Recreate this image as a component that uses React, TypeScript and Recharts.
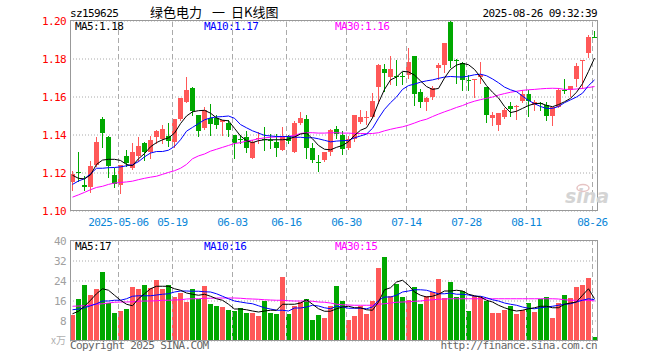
import React from 'react';
import { ComposedChart, Bar, Line, XAxis, YAxis, CartesianGrid, ReferenceLine } from 'recharts';

const dates = [
  '2025-04-21','2025-04-22','2025-04-23','2025-04-24','2025-04-25','2025-04-28','2025-04-29','2025-04-30',
  '2025-05-06','2025-05-07','2025-05-08','2025-05-09','2025-05-12','2025-05-13','2025-05-14','2025-05-15','2025-05-16',
  '2025-05-19','2025-05-20','2025-05-21','2025-05-22','2025-05-23','2025-05-26','2025-05-27','2025-05-28','2025-05-29','2025-05-30',
  '2025-06-03','2025-06-04','2025-06-05','2025-06-06','2025-06-09','2025-06-10','2025-06-11','2025-06-12','2025-06-13',
  '2025-06-16','2025-06-17','2025-06-18','2025-06-19','2025-06-20','2025-06-23','2025-06-24','2025-06-25','2025-06-26','2025-06-27',
  '2025-06-30','2025-07-01','2025-07-02','2025-07-03','2025-07-04','2025-07-07','2025-07-08','2025-07-09','2025-07-10','2025-07-11',
  '2025-07-14','2025-07-15','2025-07-16','2025-07-17','2025-07-18','2025-07-21','2025-07-22','2025-07-23','2025-07-24','2025-07-25',
  '2025-07-28','2025-07-29','2025-07-30','2025-07-31','2025-08-01','2025-08-04','2025-08-05','2025-08-06','2025-08-07','2025-08-08',
  '2025-08-11','2025-08-12','2025-08-13','2025-08-14','2025-08-15','2025-08-18','2025-08-19','2025-08-20','2025-08-21','2025-08-22',
  '2025-08-25','2025-08-26',
];

const openP = [1.1151,1.1205,1.1139,1.1127,1.1243,1.1483,1.1391,1.1191,1.1139,1.1290,
  1.1226,1.1287,1.1357,1.1313,1.1391,1.1381,1.1393,1.1363,1.1484,1.1572,
  1.1647,1.1504,1.1437,1.1489,1.1489,1.1468,1.1465,1.1400,1.1380,1.1391,
  1.1278,1.1380,1.1379,1.1375,1.1365,1.1322,1.1395,1.1313,1.1463,1.1483,
  1.1334,1.1258,1.1270,1.1313,1.1432,1.1400,1.1334,1.1381,1.1468,1.1494,
  1.1496,1.1654,1.1746,1.1707,1.1712,1.1712,1.1716,1.1816,1.1628,1.1575,
  1.1598,1.1751,1.1768,1.1993,1.1795,1.1777,1.1692,1.1688,1.1707,1.1651,
  1.1488,1.1453,1.1496,1.1554,1.1547,1.1577,1.1618,1.1560,1.1570,1.1560,
  1.1498,1.1547,1.1637,1.1635,1.1695,1.1788,1.1832,1.1918];
const highP = [1.1212,1.1313,1.1186,1.1264,1.1391,1.1496,1.1395,1.1226,1.1243,1.1322,
  1.1357,1.1391,1.1365,1.1395,1.1425,1.1454,1.1463,1.1486,1.1596,1.1704,
  1.1651,1.1507,1.1546,1.1563,1.1507,1.1480,1.1478,1.1400,1.1400,1.1421,
  1.1374,1.1414,1.1442,1.1405,1.1403,1.1443,1.1400,1.1473,1.1522,1.1504,
  1.1357,1.1296,1.1313,1.1430,1.1450,1.1421,1.1395,1.1503,1.1534,1.1526,
  1.1622,1.1772,1.1772,1.1816,1.1795,1.1730,1.1860,1.1816,1.1640,1.1598,
  1.1660,1.1777,1.1882,1.2000,1.1800,1.1786,1.1716,1.1697,1.1786,1.1651,
  1.1523,1.1516,1.1542,1.1572,1.1556,1.1639,1.1639,1.1586,1.1572,1.1572,
  1.1547,1.1647,1.1695,1.1660,1.1779,1.1797,1.1928,1.1946];
const lowP = [1.1110,1.1157,1.1110,1.1099,1.1235,1.1339,1.1179,1.1127,1.1096,1.1235,
  1.1221,1.1261,1.1270,1.1278,1.1360,1.1358,1.1340,1.1335,1.1480,1.1572,
  1.1505,1.1393,1.1432,1.1402,1.1437,1.1398,1.1395,1.1278,1.1357,1.1313,
  1.1278,1.1357,1.1322,1.1330,1.1287,1.1322,1.1357,1.1313,1.1456,1.1278,
  1.1256,1.1209,1.1265,1.1295,1.1385,1.1299,1.1328,1.1369,1.1465,1.1456,
  1.1496,1.1570,1.1633,1.1668,1.1663,1.1668,1.1700,1.1558,1.1549,1.1532,
  1.1590,1.1693,1.1733,1.1760,1.1672,1.1637,1.1637,1.1602,1.1672,1.1470,
  1.1453,1.1426,1.1490,1.1498,1.1484,1.1575,1.1498,1.1533,1.1533,1.1481,
  1.1454,1.1547,1.1621,1.1604,1.1656,1.1647,1.1811,1.1914];
const closeP = [1.1197,1.1202,1.1125,1.1235,1.1365,1.1412,1.1235,1.1143,1.1243,1.1252,
  1.1313,1.1343,1.1313,1.1374,1.1421,1.1433,1.1367,1.1486,1.1593,1.1637,
  1.1525,1.1419,1.1530,1.1458,1.1454,1.1478,1.1425,1.1357,1.1376,1.1334,
  1.1365,1.1384,1.1376,1.1368,1.1334,1.1391,1.1369,1.1463,1.1487,1.1334,
  1.1270,1.1256,1.1313,1.1428,1.1406,1.1328,1.1381,1.1503,1.1496,1.1497,
  1.1578,1.1768,1.1728,1.1747,1.1709,1.1708,1.1786,1.1616,1.1575,1.1596,
  1.1646,1.1768,1.1882,1.1790,1.1790,1.1689,1.1688,1.1695,1.1716,1.1505,
  1.1505,1.1514,1.1532,1.1537,1.1554,1.1618,1.1577,1.1572,1.1565,1.1498,
  1.1547,1.1635,1.1633,1.1660,1.1765,1.1796,1.1916,1.1916];

const ma5P = [1.1188,1.1172,1.1169,1.1190,1.1245,1.1268,1.1272,1.1272,1.1266,1.1245,
  1.1238,1.1275,1.1302,1.1338,1.1360,1.1375,1.1385,1.1410,1.1460,1.1500,
  1.1522,1.1528,1.1530,1.1515,1.1490,1.1478,1.1475,1.1435,1.1395,1.1370,
  1.1360,1.1370,1.1375,1.1375,1.1375,1.1375,1.1378,1.1390,1.1405,1.1410,
  1.1380,1.1345,1.1325,1.1322,1.1335,1.1345,1.1365,1.1398,1.1425,1.1438,
  1.1490,1.1570,1.1640,1.1690,1.1705,1.1735,1.1732,1.1715,1.1685,1.1655,
  1.1640,1.1645,1.1700,1.1745,1.1768,1.1777,1.1770,1.1745,1.1705,1.1660,
  1.1625,1.1595,1.1550,1.1518,1.1525,1.1540,1.1555,1.1565,1.1567,1.1556,
  1.1549,1.1560,1.1575,1.1593,1.1625,1.1670,1.1735,1.1805];
const ma10P = [1.1140,1.1158,1.1170,1.1195,1.1225,1.1225,1.1228,1.1229,1.1232,1.1238,
  1.1243,1.1260,1.1285,1.1305,1.1313,1.1313,1.1320,1.1340,1.1375,1.1420,
  1.1440,1.1460,1.1480,1.1490,1.1495,1.1497,1.1500,1.1488,1.1455,1.1438,
  1.1422,1.1410,1.1398,1.1395,1.1392,1.1392,1.1392,1.1388,1.1388,1.1385,
  1.1386,1.1380,1.1372,1.1364,1.1368,1.1370,1.1372,1.1385,1.1395,1.1405,
  1.1435,1.1488,1.1535,1.1570,1.1600,1.1640,1.1660,1.1668,1.1678,1.1685,
  1.1690,1.1698,1.1705,1.1708,1.1706,1.1705,1.1710,1.1717,1.1720,1.1712,
  1.1695,1.1675,1.1652,1.1638,1.1628,1.1605,1.1582,1.1565,1.1550,1.1540,
  1.1540,1.1550,1.1570,1.1585,1.1600,1.1620,1.1660,1.1690];
const ma30P = [1.1073,1.1085,1.1098,1.1112,1.1124,1.1130,1.1140,1.1147,1.1150,1.1153,
  1.1157,1.1165,1.1172,1.1178,1.1183,1.1193,1.1203,1.1212,1.1225,1.1245,
  1.1275,1.1290,1.1300,1.1315,1.1325,1.1335,1.1345,1.1355,1.1360,1.1368,
  1.1373,1.1380,1.1385,1.1388,1.1390,1.1390,1.1393,1.1398,1.1408,1.1412,
  1.1412,1.1410,1.1410,1.1412,1.1412,1.1410,1.1410,1.1408,1.1408,1.1407,
  1.1408,1.1412,1.1422,1.1430,1.1437,1.1443,1.1452,1.1463,1.1475,1.1483,
  1.1497,1.1510,1.1522,1.1533,1.1545,1.1555,1.1568,1.1578,1.1586,1.1593,
  1.1600,1.1610,1.1618,1.1625,1.1630,1.1635,1.1638,1.1640,1.1643,1.1645,
  1.1646,1.1645,1.1640,1.1640,1.1642,1.1645,1.1650,1.1655];

const volume = [10.5,16.9,22.3,18.3,20.7,27.5,15.2,11.2,11.9,12.7,
  21.5,20.7,22.3,21.1,24.3,20.7,22.3,17.5,19.1,15.7,
  20.7,16.9,21.9,14.7,13.9,13.5,12.3,11.9,13.3,11.1,
  11.1,9.9,15.9,11.1,10.7,25.5,10.7,14.1,15.5,16.7,
  8.3,10.3,9.1,14.1,21.9,15.9,8.5,9.9,13.9,10.7,
  15.9,29.1,33.5,17.9,22.7,17.6,16.3,21.5,14.7,17.9,
  19.5,24.7,17.1,23.5,17.6,20.0,11.9,17.9,17.6,15.9,
  11.2,11.2,12.3,14.1,10.7,12.3,15.1,11.5,16.8,17.5,
  9.1,15.1,18.3,17.1,21.5,22.3,25.1,1.5];
const vma5 = [10.9,11.9,13.9,16.3,18.9,20.9,20.3,18.3,16.3,14.7,
  14.1,16.9,18.9,20.9,21.9,21.9,21.9,20.9,20.3,19.2,
  18.7,18.3,18.7,17.9,16.9,16.3,14.7,12.8,12.8,12.5,
  12.0,11.6,12.0,12.3,12.3,14.7,14.7,14.7,15.2,16.5,
  14.7,12.9,11.9,11.9,12.9,13.6,13.9,13.3,13.3,12.5,
  12.3,15.6,20.5,21.3,23.6,24.3,22.3,19.6,18.3,17.6,
  17.9,18.7,20.0,20.0,20.3,20.0,18.7,18.1,17.6,16.3,
  15.6,14.3,13.3,12.5,12.0,12.3,12.9,13.3,13.9,13.9,
  13.3,13.3,14.7,15.2,15.6,18.3,20.9,16.9];
const vma10 = [12.5,12.8,13.3,14.1,14.9,16.0,16.0,16.3,16.3,16.9,
  17.9,18.1,18.1,18.1,18.4,18.7,18.9,19.6,20.0,20.0,
  19.9,19.9,19.7,19.6,18.9,17.9,16.9,16.0,15.6,15.2,
  14.9,14.1,13.3,12.8,12.3,12.3,12.0,13.2,13.2,13.6,
  14.3,14.0,13.3,12.9,13.9,13.6,13.1,13.1,13.1,12.9,
  13.6,16.3,17.6,17.6,18.3,19.6,20.0,20.5,20.5,20.3,
  19.6,18.9,18.9,19.2,18.7,18.7,18.4,17.9,17.9,17.3,
  16.5,16.0,15.2,14.7,14.3,13.6,13.1,12.9,13.3,13.6,
  13.9,14.3,14.7,14.9,15.6,16.3,16.9,16.5];
const vma30 = [13.9,14.0,14.1,14.4,14.7,14.9,15.2,15.5,15.6,15.6,
  15.7,15.9,16.0,16.0,16.1,16.3,16.3,16.4,16.5,16.8,
  16.9,16.9,17.1,17.1,17.2,17.2,17.2,17.2,17.1,16.9,
  16.8,16.7,16.5,16.4,16.3,16.3,16.1,16.0,16.0,16.0,
  15.9,15.6,15.5,15.2,14.7,14.5,14.4,14.3,14.3,14.3,
  14.3,14.7,14.9,15.2,15.5,15.6,15.7,15.9,16.0,16.3,
  16.5,16.7,16.8,16.9,16.9,16.9,16.9,16.9,16.9,16.9,
  16.9,16.9,16.9,16.9,16.9,16.9,16.9,16.9,16.9,16.9,
  16.9,16.8,16.5,16.3,16.3,16.3,16.3,16.0];

const tickDates = ['2025-05-06','2025-05-19','2025-06-03','2025-06-16','2025-06-30','2025-07-14','2025-07-28','2025-08-11','2025-08-26'];
const tickLabels = ['2025-05-06','05-19','06-03','06-16','06-30','07-14','07-28','08-11','08-26'];
const priceTicks = [1.10, 1.12, 1.14, 1.16, 1.18, 1.20];
const volTicks = [0, 8, 16, 24, 32, 40];

const RED = '#ff5858';
const GREEN = '#00a800';
const MONO = 'DejaVu Sans Mono';
const GRID_SHIFT = 0.35;
const X_DOMAIN: [number, number] = [-2.5 / 6, 87 + 2.5 / 6];

const rows = dates.map((d, i) => ({
  idx: i,
  date: d,
  open: openP[i],
  high: highP[i],
  low: lowP[i],
  close: closeP[i],
  range: [lowP[i], highP[i]],
  ma5: ma5P[i],
  ma10: ma10P[i],
  ma30: ma30P[i],
  vol: volume[i],
  vma5: vma5[i],
  vma10: vma10[i],
  vma30: vma30[i],
}));

const tickPos = tickDates.map((d) => dates.indexOf(d) - GRID_SHIFT);
const tickFmt = (v: number) => {
  const k = tickPos.findIndex((t) => Math.abs(t - v) < 0.01);
  return k >= 0 ? tickLabels[k] : '';
};

const Candle = (props: any) => {
  const { x, y, width, height, payload } = props;
  if (x == null || y == null || !payload) return null;
  const { open, close, high, low } = payload;
  const top = Math.min(y, y + height);
  const h = Math.abs(height);
  const k = high - low > 0 ? h / (high - low) : 0;
  const yOf = (v: number) => top + (high - v) * k;
  const up = close >= open;
  const color = up ? RED : GREEN;
  const cx = Math.floor(x + width / 2 + 0.01) + 0.5;
  const bTop = Math.round(yOf(Math.max(open, close)));
  const bBot = Math.round(yOf(Math.min(open, close)));
  const bodyH = Math.max(1, bBot - bTop);
  return (
    <g>
      <line x1={cx} x2={cx} y1={Math.round(top)} y2={Math.round(top + h) + 1} stroke={color} strokeWidth={1} shapeRendering="crispEdges" />
      <rect x={cx - 2.5} y={bTop} width={5} height={bodyH} fill={color} shapeRendering="crispEdges" />
    </g>
  );
};

const VolBar = (props: any) => {
  const { x, y, width, height, payload } = props;
  if (x == null || y == null || !payload) return null;
  const cx = Math.floor(x + width / 2 + 0.01) + 0.5;
  const color = payload.close >= payload.open ? RED : GREEN;
  const top = Math.min(y, y + height);
  return <rect x={cx - 2.5} y={top} width={5} height={Math.abs(height)} fill={color} shapeRendering="crispEdges" />;
};

const vLines = (keyPrefix: string) =>
  tickPos.map((t) => (
    <ReferenceLine key={keyPrefix + t} x={t} stroke="#aaaaaa" strokeDasharray="5 3" strokeWidth={1} shapeRendering="crispEdges" />
  ));

export default function App() {
  return (
    <div style={{ position: 'absolute', left: 0, top: 0, width: 660, height: 360, background: '#ffffff', overflow: 'hidden' }}>
      <div style={{ position: 'absolute', left: 0, top: 0 }}>
        <ComposedChart width={660} height={230} data={rows} margin={{ top: 21, right: 63, left: 0, bottom: 0 }}>
          <CartesianGrid vertical={false} stroke="#aaaaaa" strokeDasharray="1 2" />
          <XAxis
            dataKey="idx"
            type="number"
            domain={X_DOMAIN}
            allowDataOverflow
            ticks={tickPos}
            interval={0}
            tickFormatter={tickFmt}
            height={19}
            axisLine={false}
            tickLine={false}
            tickSize={5}
            tickMargin={2}
            tick={{ fill: '#0a86d8', fontSize: 11, fontFamily: MONO, letterSpacing: -0.6 }}
          />
          <YAxis
            type="number"
            domain={[1.1, 1.2]}
            ticks={priceTicks}
            interval={0}
            allowDataOverflow
            width={70}
            axisLine={false}
            tickLine={false}
            tickSize={2}
            tickMargin={2}
            tickFormatter={(v: number) => v.toFixed(2)}
            tick={{ fill: '#ff0000', fontSize: 11, fontFamily: MONO, letterSpacing: -0.6 }}
          />
          {vLines('m')}
          <Bar dataKey="range" barSize={5} shape={Candle} isAnimationActive={false} />
          <Line type="linear" dataKey="ma30" stroke="#ff00ff" strokeWidth={1} dot={false} activeDot={false} isAnimationActive={false} />
          <Line type="linear" dataKey="ma10" stroke="#0000ff" strokeWidth={1} dot={false} activeDot={false} isAnimationActive={false} />
          <Line type="linear" dataKey="ma5" stroke="#000000" strokeWidth={1} dot={false} activeDot={false} isAnimationActive={false} />
        </ComposedChart>
      </div>
      <div style={{ position: 'absolute', left: 0, top: 230 }}>
        <ComposedChart width={660} height={130} data={rows} margin={{ top: 11, right: 63, left: 0, bottom: 19 }}>
          <CartesianGrid vertical={false} stroke="#aaaaaa" strokeDasharray="1 2" />
          <XAxis dataKey="idx" type="number" domain={X_DOMAIN} allowDataOverflow ticks={tickPos} hide />
          <YAxis
            type="number"
            domain={[0, 40]}
            ticks={volTicks}
            interval={0}
            width={70}
            axisLine={false}
            tickLine={false}
            tickSize={2}
            tickMargin={2}
            tickFormatter={(v: number) => (v === 0 ? '' : String(v))}
            tick={{ fill: '#a0a0a0', fontSize: 11, fontFamily: MONO, letterSpacing: -0.6 }}
          />
          {vLines('v')}
          <Bar dataKey="vol" barSize={5} shape={VolBar} isAnimationActive={false} />
          <Line type="linear" dataKey="vma30" stroke="#ff00ff" strokeWidth={1} dot={false} activeDot={false} isAnimationActive={false} />
          <Line type="linear" dataKey="vma10" stroke="#0000ff" strokeWidth={1} dot={false} activeDot={false} isAnimationActive={false} />
          <Line type="linear" dataKey="vma5" stroke="#000000" strokeWidth={1} dot={false} activeDot={false} isAnimationActive={false} />
        </ComposedChart>
      </div>
      <svg width={660} height={360} style={{ position: 'absolute', left: 0, top: 0, pointerEvents: 'none' }}>
        <rect x={70.5} y={20.5} width={527} height={190} fill="none" stroke="#999999" strokeWidth={1} />
        <rect x={70.5} y={240.5} width={527} height={100} fill="none" stroke="#999999" strokeWidth={1} />
        <g fontFamily={MONO} fontSize={11} letterSpacing={-0.6}>
          <text x={70} y={17} fill="#000">sz159625</text>
          <text x={597} y={17} fill="#000" textAnchor="end">2025-08-26 09:32:39</text>
          <text x={75} y={30} fill="#000">MA5:1.18</text>
          <text x={204} y={30} fill="#0000ff">MA10:1.17</text>
          <text x={335} y={30} fill="#ff00ff">MA30:1.16</text>
          <text x={75} y={250} fill="#000">MA5:17</text>
          <text x={204} y={250} fill="#0000ff">MA10:16</text>
          <text x={335} y={250} fill="#ff00ff">MA30:15</text>
          <text x={70} y={349} fill="#666">Copyright 2025 SINA.COM</text>
          <text x={597} y={349} fill="#666" textAnchor="end">http://finance.sina.com.cn</text>
        </g>
        <text fontFamily="Noto Sans CJK SC" fontSize={13} y={17} fill="#000">
          <tspan x={150}>绿色电力</tspan>
          <tspan x={212}>一</tspan>
          <tspan x={231}>日K线图</tspan>
        </text>
        <text x={66} y={344} fontFamily="Noto Sans CJK SC" fontSize={10} fill="#b0b0b0" textAnchor="end">x万</text>
        <text x={565} y={203} fontFamily="DejaVu Sans" fontSize={19} fontStyle="italic" fontWeight="bold" fill="#d4d4d4">sina</text>
        <ellipse cx={583} cy={188} rx={6} ry={3.5} fill="none" stroke="#e6c4c4" strokeWidth={1.5} />
      </svg>
    </div>
  );
}
